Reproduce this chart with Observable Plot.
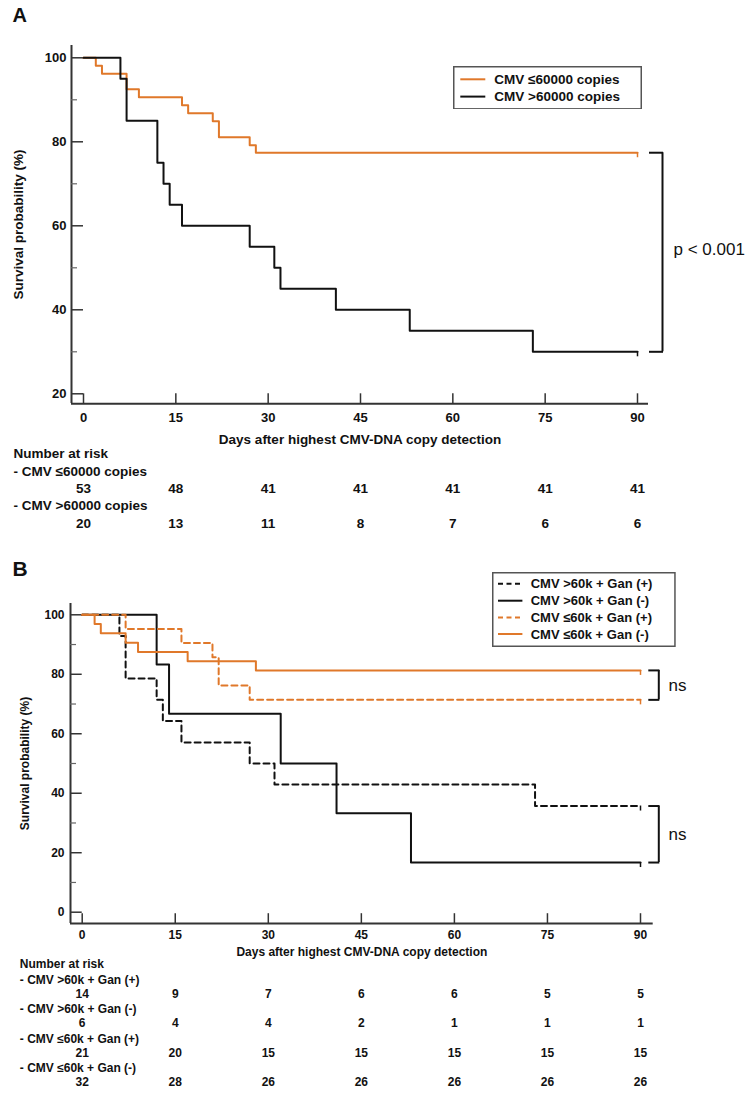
<!DOCTYPE html>
<html>
<head>
<meta charset="utf-8">
<script src="https://cdn.jsdelivr.net/npm/d3@7"></script>
<script src="https://cdn.jsdelivr.net/npm/@observablehq/plot@0.6"></script>
<style>
  body { margin: 0; background: #fff; font-family: "Liberation Sans", Arial, sans-serif; }
  .panel { position: relative; width: 750px; }
  .panel svg { display: block; }
</style>
</head>
<body>
<div id="A" class="panel"></div>
<div id="B" class="panel"></div>
<script>
// ---------------- DATA ----------------
const days = [0, 15, 30, 45, 60, 75, 90];
const yMajorA = [20, 40, 60, 80, 100];
const yMinorA = [30, 50, 70, 90];
const yMajorB = [0, 20, 40, 60, 80, 100];
const yMinorB = [10, 30, 50, 70, 90];

// Panel A: Kaplan-Meier steps (day, survival %)
const lowA_t = [0, 2, 3, 7, 9, 16, 17, 21, 22, 27, 28, 90];
const lowA_s = [100, 98.1, 96.2, 92.5, 90.6, 88.7, 86.8, 84.9, 81.1, 79.2, 77.4, 77.4];
const highA_t = [0, 6, 7, 12, 13, 14, 16, 27, 31, 32, 41, 53, 73, 90];
const highA_s = [100, 95, 85, 75, 70, 65, 60, 55, 50, 45, 40, 35, 30, 30];
const riskA_low = [53, 48, 41, 41, 41, 41, 41];
const riskA_high = [20, 13, 11, 8, 7, 6, 6];
const labelsA = ["CMV \u226460000 copies", "CMV >60000 copies"];

// Panel B
const hiP_t = [0, 6, 7, 12, 13, 16, 27, 31, 73, 90];
const hiP_s = [100, 92.9, 78.6, 71.4, 64.3, 57.1, 50, 42.9, 35.7, 35.7];
const hiN_t = [0, 12, 14, 32, 41, 53, 90];
const hiN_s = [100, 83.3, 66.7, 50, 33.3, 16.7, 16.7];
const loP_t = [0, 7, 16, 21, 22, 27, 90];
const loP_s = [100, 95.2, 90.5, 85.7, 76.2, 71.4, 71.4];
const loN_t = [0, 2, 3, 7, 9, 17, 28, 90];
const loN_s = [100, 96.9, 93.8, 90.6, 87.5, 84.4, 81.3, 81.3];
const riskB_hiP = [14, 9, 7, 6, 6, 5, 5];
const riskB_hiN = [6, 4, 4, 2, 1, 1, 1];
const riskB_loP = [21, 20, 15, 15, 15, 15, 15];
const riskB_loN = [32, 28, 26, 26, 26, 26, 26];
const labelsB = ["CMV >60k + Gan (+)", "CMV >60k + Gan (-)", "CMV \u226460k + Gan (+)", "CMV \u226460k + Gan (-)"];

// ---------------- STYLE ----------------
const ORANGE = "#E0782A";
const INK = "#111";
const AX = "#333";
const FONT = "Liberation Sans, Arial, sans-serif";
const last = a => a[a.length - 1];
const series = (t, s) => t.map((d, i) => ({t: d, s: s[i]}));

function curveMarks(t, s, color, dash) {
  const data = series(t, s);
  const end = [data[data.length - 1]];
  return [
    Plot.line(data, {x: "t", y: "s", curve: "step-after", stroke: color, strokeWidth: 2, strokeDasharray: dash}),
    Plot.ruleX(end, {x: "t", y1: "s", y2: "s", insetBottom: -5, stroke: color, strokeWidth: 1.5})
  ];
}

function legend(panel, o) {
  const svg = d3.select(panel).append("svg")
    .style("position", "absolute").style("left", o.x + "px").style("top", o.y + "px")
    .attr("width", o.w).attr("height", o.h);
  svg.append("rect").attr("x", 0.75).attr("y", 0.75).attr("width", o.w - 1.5).attr("height", o.h - 1.5)
    .attr("fill", "#fff").attr("stroke", "#555").attr("stroke-width", 1.5);
  o.items.forEach((it, i) => {
    const y = o.rows[i];
    svg.append("line").attr("x1", o.lx1).attr("x2", o.lx2).attr("y1", y).attr("y2", y)
      .attr("stroke", it.color).attr("stroke-width", 2).attr("stroke-dasharray", it.dash || null);
    svg.append("text").attr("x", o.tx).attr("y", y).attr("dy", "0.35em")
      .attr("font-family", FONT).attr("font-weight", "bold").attr("font-size", o.fs)
      .attr("fill", INK).text(it.label);
  });
}

// ---------------- PANEL A ----------------
{
  const fs = 13.5;
  const endLow = last(lowA_s), endHigh = last(highA_s), xEnd = last(days);
  const txt = {fill: INK, fontWeight: "bold", fontSize: fs, lineAnchor: "middle"};
  const chart = Plot.plot({
    width: 750, height: 545,
    marginLeft: 71, marginRight: 102, marginTop: 45, marginBottom: 142,
    x: {domain: [0, 90], range: [83, 637], axis: null},
    y: {domain: [20, 100], range: [393.3, 57.3], axis: null},
    style: {fontFamily: FONT, overflow: "visible", background: "#fff"},
    marks: [
      // axes
      Plot.ruleX([0], {dx: -12, stroke: AX, strokeWidth: 2}),
      Plot.ruleY([20], {dy: 10, stroke: AX, strokeWidth: 2}),
      Plot.ruleY(yMajorA, {y: d => d, x1: () => 0, x2: () => 0, insetLeft: -12, stroke: AX, strokeWidth: 1.5}),
      Plot.ruleY(yMinorA, {y: d => d, x1: () => 0, x2: () => 0, insetLeft: -12, insetRight: 6, stroke: "#666", strokeWidth: 1.2}),
      Plot.ruleX(days, {x: d => d, y1: () => 20, y2: () => 20, insetTop: 0, insetBottom: -10, stroke: AX, strokeWidth: 1.5}),
      Plot.text(yMajorA, {y: d => d, frameAnchor: "left", dx: -5, textAnchor: "end", ...txt, fontSize: 13}),
      Plot.text(days, {x: d => d, frameAnchor: "bottom", dy: 14, textAnchor: "middle", ...txt, fontSize: 13}),
      Plot.text(["Days after highest CMV-DNA copy detection"], {frameAnchor: "bottom", dy: 36, textAnchor: "middle", ...txt}),
      Plot.text(["Survival probability (%)"], {frameAnchor: "left", dx: -53, rotate: -90, textAnchor: "middle", ...txt}),
      Plot.text(["A"], {frameAnchor: "top-left", dx: -59, dy: -30, textAnchor: "start", fill: INK, fontWeight: "bold", fontSize: 20, lineAnchor: "middle"}),
      // curves
      ...curveMarks(lowA_t, lowA_s, ORANGE, null),
      ...curveMarks(highA_t, highA_s, INK, null),
      // bracket + p value
      Plot.ruleX([xEnd], {x: d => d, y1: () => endHigh, y2: () => endLow, dx: 25, stroke: INK, strokeWidth: 2}),
      Plot.ruleY([endLow, endHigh], {y: d => d, x1: () => xEnd, x2: () => xEnd, insetLeft: 12, insetRight: -26, stroke: INK, strokeWidth: 2}),
      Plot.text(["p < 0.001"], {x: () => xEnd, y: () => (endLow + endHigh) / 2, dx: 36, dy: -3, textAnchor: "start", lineAnchor: "middle", fill: INK, fontSize: 17}),
      // number at risk
      Plot.text(["Number at risk"], {frameAnchor: "bottom-left", dx: -58, dy: 50.3, textAnchor: "start", ...txt}),
      Plot.text(["- " + labelsA[0]], {frameAnchor: "bottom-left", dx: -58, dy: 68, textAnchor: "start", ...txt}),
      Plot.text(days, {x: d => d, text: (d, i) => String(riskA_low[i]), frameAnchor: "bottom", dy: 84.7, textAnchor: "middle", ...txt}),
      Plot.text(["- " + labelsA[1]], {frameAnchor: "bottom-left", dx: -58, dy: 102, textAnchor: "start", ...txt}),
      Plot.text(days, {x: d => d, text: (d, i) => String(riskA_high[i]), frameAnchor: "bottom", dy: 119.7, textAnchor: "middle", ...txt})
    ]
  });
  const panel = document.getElementById("A");
  panel.appendChild(chart);
  legend(panel, {
    x: 452.7, y: 65.7, w: 189, h: 43.6, fs: 13.5,
    rows: [13.3, 30.6], lx1: 7.3, lx2: 32.3, tx: 41.3,
    items: [{label: labelsA[0], color: ORANGE}, {label: labelsA[1], color: INK}]
  });
}

// ---------------- PANEL B ----------------
{
  const fs = 12;
  const xEnd = last(days);
  const eLoN = last(loN_s), eLoP = last(loP_s), eHiP = last(hiP_s), eHiN = last(hiN_s);
  const txt = {fill: INK, fontWeight: "bold", fontSize: fs, lineAnchor: "middle"};
  const rowL = [56.3, 85.8, 115.3, 144.8];
  const risks = [riskB_hiP, riskB_hiN, riskB_loP, riskB_loN];
  const tableMarks = [];
  labelsB.forEach((lab, k) => {
    tableMarks.push(Plot.text(["- " + lab], {frameAnchor: "bottom-left", dx: -50.7, dy: rowL[k], textAnchor: "start", ...txt}));
    tableMarks.push(Plot.text(days, {x: d => d, text: (d, i) => String(risks[k][i]), frameAnchor: "bottom", dy: rowL[k] + 14.2, textAnchor: "middle", ...txt}));
  });
  const bracket = (a, b) => [
    Plot.ruleX([xEnd], {x: d => d, y1: () => a, y2: () => b, dx: 18.3, stroke: INK, strokeWidth: 2}),
    Plot.ruleY([a, b], {y: d => d, x1: () => xEnd, x2: () => xEnd, insetLeft: 8.3, insetRight: -19.3, stroke: INK, strokeWidth: 2}),
    Plot.text(["ns"], {x: () => xEnd, y: () => (a + b) / 2, dx: 28, textAnchor: "start", lineAnchor: "middle", fill: INK, fontSize: 17})
  ];
  const chart = Plot.plot({
    width: 750, height: 551,
    marginLeft: 70, marginRight: 97.3, marginTop: 58, marginBottom: 173,
    x: {domain: [0, 90], range: [81.7, 640], axis: null},
    y: {domain: [0, 100], range: [366.7, 69.3], axis: null},
    style: {fontFamily: FONT, overflow: "visible", background: "#fff"},
    marks: [
      Plot.ruleX([0], {dx: -11.7, stroke: AX, strokeWidth: 2}),
      Plot.ruleY([0], {dy: 11.3, stroke: AX, strokeWidth: 2}),
      Plot.ruleY(yMajorB, {y: d => d, x1: () => 0, x2: () => 0, insetLeft: -11.7, stroke: AX, strokeWidth: 1.5}),
      Plot.ruleY(yMinorB, {y: d => d, x1: () => 0, x2: () => 0, insetLeft: -11.7, insetRight: 5.7, stroke: "#666", strokeWidth: 1.2}),
      Plot.ruleX(days, {x: d => d, y1: () => 0, y2: () => 0, insetTop: 1.5, insetBottom: -11.3, stroke: AX, strokeWidth: 1.5}),
      Plot.text(yMajorB, {y: d => d, frameAnchor: "left", dx: -6, textAnchor: "end", ...txt}),
      Plot.text(days, {x: d => d, frameAnchor: "bottom", dy: 11.5, textAnchor: "middle", ...txt}),
      Plot.text(["Days after highest CMV-DNA copy detection"], {frameAnchor: "bottom", dy: 28.7, textAnchor: "middle", ...txt}),
      Plot.text(["Survival probability (%)"], {frameAnchor: "left", dx: -45, rotate: -90, textAnchor: "middle", ...txt}),
      Plot.text(["B"], {frameAnchor: "top-left", dx: -58, dy: -34, textAnchor: "start", fill: INK, fontWeight: "bold", fontSize: 21, lineAnchor: "middle"}),
      ...curveMarks(hiN_t, hiN_s, INK, null),
      ...curveMarks(hiP_t, hiP_s, INK, "6,4"),
      ...curveMarks(loP_t, loP_s, ORANGE, "6,4"),
      ...curveMarks(loN_t, loN_s, ORANGE, null),
      ...bracket(eLoN, eLoP),
      ...bracket(eHiP, eHiN),
      Plot.text(["Number at risk"], {frameAnchor: "bottom-left", dx: -50.7, dy: 40.3, textAnchor: "start", ...txt}),
      ...tableMarks
    ]
  });
  const panel = document.getElementById("B");
  panel.appendChild(chart);
  legend(panel, {
    x: 492.3, y: 27.3, w: 183.7, h: 75, fs: 13,
    rows: [11.7, 28.7, 45.4, 62], lx1: 6, lx2: 30.4, tx: 38.7,
    items: [
      {label: labelsB[0], color: INK, dash: "5,3.5"},
      {label: labelsB[1], color: INK},
      {label: labelsB[2], color: ORANGE, dash: "5,3.5"},
      {label: labelsB[3], color: ORANGE}
    ]
  });
}
</script>
</body>
</html>
